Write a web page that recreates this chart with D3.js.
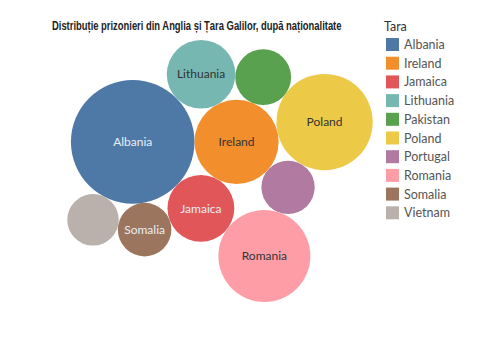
<!DOCTYPE html>
<html><head><meta charset="utf-8">
<script src="https://cdn.jsdelivr.net/npm/d3@7"></script>
<style>body{margin:0;background:#fff}svg{display:block}</style>
</head><body>
<script>
const title = "Distribuție prizonieri din Anglia și Țara Galilor, după naționalitate";
const legendTitle = "Tara";
const categories = ["Albania","Ireland","Jamaica","Lithuania","Pakistan","Poland","Portugal","Romania","Somalia","Vietnam"];
const values = [1534, 710, 448, 472, 313, 931, 285, 850, 288, 266];
const colors = ["#4e79a7","#f28e2b","#e15759","#76b7b2","#59a14f","#edc948","#b07aa1","#ff9da7","#9c755f","#bab0ac"];
const labeled = ["Albania","Ireland","Jamaica","Lithuania","Poland","Romania","Somalia"];
const lightText = ["Albania","Jamaica","Somalia"];

const W = 480, H = 337;
const svg = d3.select("body").append("svg").attr("width", W).attr("height", H);

const rScale = d3.scaleSqrt().domain([0, d3.max(values)]).range([0, 100]);
const nodes = categories.map((c, i) => ({cat: c, value: values[i], color: colors[i], r: rScale(values[i])}));

// front-chain circle packing (pivot-based, clockwise)
function place(m, n, c) {
  const dx = n.x - m.x, dy = n.y - m.y, d = Math.hypot(dx, dy);
  const ux = dx / d, uy = dy / d;
  const a = m.r + c.r, b = n.r + c.r;
  const x = (d * d + a * a - b * b) / (2 * d);
  const h = Math.sqrt(Math.max(0, a * a - x * x));
  c.x = m.x + x * ux + h * uy;
  c.y = m.y + x * uy - h * ux;
}
function hits(p, q) {
  const s = p.r + q.r - 1e-6;
  return (p.x - q.x) ** 2 + (p.y - q.y) ** 2 < s * s;
}
function link(m, n) { m.next = n; n.prev = m; }
function pack(list) {
  const [a, b, c0] = list;
  a.x = 0; a.y = 0; b.x = a.r + b.r; b.y = 0;
  place(b, a, c0);
  link(a, b); link(b, c0); link(c0, a);
  const O = {x: a.r, y: 0};
  const dist = t => (t.x - O.x) ** 2 + (t.y - O.y) ** 2;
  let head = c0;
  for (let i = 3; i < list.length; i++) {
    const c = list[i];
    let best = head, bd = dist(head);
    for (let t = head.next; t !== head; t = t.next) { const v = dist(t); if (v < bd) { bd = v; best = t; } }
    let n = best, m = best.prev;
    for (let guard = 0; guard < 50; guard++) {
      place(m, n, c);
      let j = null, s1 = 0;
      for (let t = n.next, s = 1; t !== m; t = t.next, s++) if (hits(t, c)) { j = t; s1 = s; break; }
      if (!j) { link(m, c); link(c, n); head = c; break; }
      let k = null, s2 = 0;
      for (let t = m.prev, s = 1; t !== n; t = t.prev, s++) if (hits(t, c)) { k = t; s2 = s; break; }
      if (!k || s1 <= s2) { link(m, j); n = j; }
      else { link(k, n); m = k; }
    }
  }
}
pack(nodes);

const box = {x0: 66, x1: 374, y0: 40, y1: 302};
const ex0 = d3.min(nodes, d => d.x - d.r), ex1 = d3.max(nodes, d => d.x + d.r);
const ey0 = d3.min(nodes, d => d.y - d.r), ey1 = d3.max(nodes, d => d.y + d.r);
const k = Math.min((box.x1 - box.x0) / (ex1 - ex0), (box.y1 - box.y0) / (ey1 - ey0));
const cx = (box.x0 + box.x1) / 2, cy = (box.y0 + box.y1) / 2;
const xS = d3.scaleLinear().domain([(ex0 + ex1) / 2, (ex0 + ex1) / 2 + 1]).range([cx, cx + k]);
const yS = d3.scaleLinear().domain([(ey0 + ey1) / 2, (ey0 + ey1) / 2 + 1]).range([cy, cy + k]);

const tt = svg.append("text").attr("x", 0).attr("y", 0)
  .attr("font-family", "'Liberation Sans Narrow', 'Arial Narrow', sans-serif")
  .attr("font-weight", "bold").attr("font-size", 12).attr("fill", "#222")
  .text(title);
const tw = tt.node().getComputedTextLength();
const sx = Math.min(1, 290 / tw);
tt.attr("transform", `translate(52,30) scale(${sx},1)`);

const g = svg.append("g");
g.selectAll("circle").data(nodes).join("circle")
  .attr("cx", d => xS(d.x)).attr("cy", d => yS(d.y)).attr("r", d => d.r * k)
  .attr("fill", d => d.color);

g.selectAll("text.lbl").data(nodes.filter(d => labeled.includes(d.cat))).join("text")
  .attr("class", "lbl")
  .attr("x", d => xS(d.x)).attr("y", d => yS(d.y)).attr("dy", "0.35em")
  .attr("text-anchor", "middle")
  .attr("font-family", "Lato, 'Noto Sans', sans-serif").attr("font-size", 12)
  .attr("fill", d => lightText.includes(d.cat) ? "#e8eef5" : "#333")
  .text(d => d.cat);

const lg = svg.append("g").attr("transform", "translate(384,0)");
lg.append("text").attr("x", 0).attr("y", 31).attr("font-family", "Lato, 'Noto Sans', sans-serif")
  .attr("font-size", 12.5).attr("fill", "#333").text(legendTitle);
const ly = d3.scaleBand().domain(categories).range([38, 38 + 18.7 * categories.length]);
const items = lg.selectAll("g.item").data(nodes).join("g").attr("class", "item")
  .attr("transform", d => `translate(0,${ly(d.cat)})`);
items.append("rect").attr("x", 2).attr("y", 0).attr("width", 13).attr("height", 13).attr("fill", d => d.color);
items.append("text").attr("x", 20).attr("y", 11).attr("font-family", "Lato, 'Noto Sans', sans-serif")
  .attr("font-size", 12.5).attr("fill", "#555").text(d => d.cat);
</script>
</body></html>
